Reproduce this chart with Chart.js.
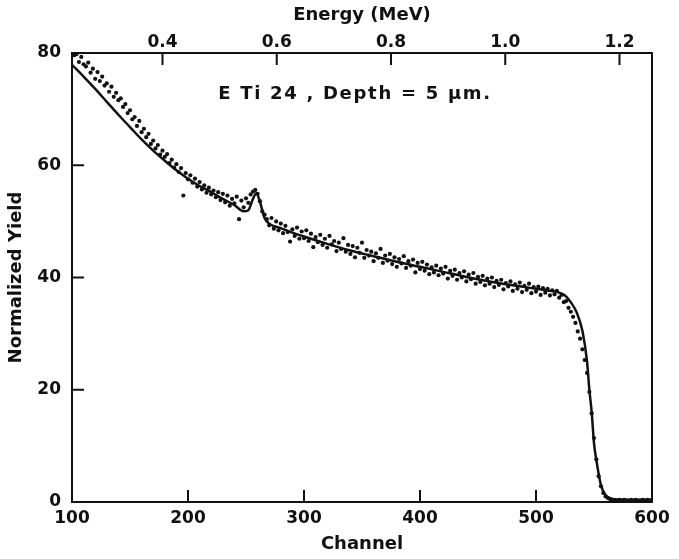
<!DOCTYPE html>
<html><head><meta charset="utf-8">
<script src="https://cdn.jsdelivr.net/npm/chart.js@4"></script>
<style>html,body{margin:0;padding:0;background:#fff}#wrap{width:679px;height:559px}</style>
</head><body><div id="wrap"><canvas id="c" width="679" height="559"></canvas></div>
<script>
// Measured spectrum (points)
const channels = [102,104,106,108,110,112,114,116,118,120,122,124,126,128,130,132,134,136,138,140,142,144,146,148,150,152,154,156,158,160,162,164,166,168,170,172,174,176,178,180,182,184,186,188,190,192,194,196,198,200,202,204,206,208,210,212,214,216,218,220,222,224,226,228,230,232,234,236,238,240,242,244,246,248,250,252,254,256,258,260,262,264,266,268,270,272,274,276,278,280,282,284,286,288,290,292,294,296,298,300,302,304,306,308,310,312,314,316,318,320,322,324,326,328,330,332,334,336,338,340,342,344,346,348,350,352,354,356,358,360,362,364,366,368,370,372,374,376,378,380,382,384,386,388,390,392,394,396,398,400,402,404,406,408,410,412,414,416,418,420,422,424,426,428,430,432,434,436,438,440,442,444,446,448,450,452,454,456,458,460,462,464,466,468,470,472,474,476,478,480,482,484,486,488,490,492,494,496,498,500,502,504,506,508,510,512,514,516,518,520,522,524,526,528,530,532,534,536,538,540,542,544,546,548,550,552,554,556,558,560,562,564,566,568,570,572,574,576,578,580,582,584,586,588,590,592,594,596,598];
const yields = [79.6,79.8,78.4,79.3,78.0,77.6,78.3,76.5,77.2,75.4,76.6,75.0,75.8,74.2,74.6,73.1,74.0,72.2,72.9,71.6,71.9,70.4,70.9,69.3,69.8,68.2,68.6,67.0,67.9,65.9,66.5,65.0,65.6,63.8,64.4,63.0,63.6,61.9,62.6,61.5,62.0,60.4,61.0,59.6,60.2,58.8,59.5,54.6,58.6,57.5,58.2,56.9,57.6,56.2,57.0,55.7,56.4,55.1,56.0,54.8,55.5,54.3,55.2,53.8,54.9,53.4,54.6,52.8,54.0,53.2,54.4,50.4,53.7,52.5,54.1,53.3,54.8,55.3,55.6,54.9,53.6,51.8,51.2,50.4,49.3,50.6,48.7,50.0,48.4,49.6,47.9,49.2,48.1,46.4,48.6,47.4,48.9,46.9,48.2,47.0,48.4,46.5,47.8,45.4,47.2,46.3,47.6,45.8,46.9,45.3,47.4,45.9,46.5,44.7,46.2,45.1,47.0,44.6,45.8,44.2,45.6,43.6,45.3,44.4,46.2,43.5,44.9,43.9,44.6,42.9,44.3,43.5,45.1,42.6,43.9,43.0,44.2,42.4,43.6,41.9,43.3,42.5,43.8,41.7,42.9,42.1,43.2,40.9,42.6,41.5,42.8,41.2,42.3,40.6,41.8,40.9,42.1,40.4,41.6,40.7,41.9,39.8,41.2,40.3,41.4,39.6,40.8,40.0,41.1,39.3,40.5,39.7,40.8,38.9,40.1,39.2,40.3,38.6,39.8,38.9,40.0,38.3,39.4,38.7,39.6,37.9,39.0,38.4,39.3,37.6,38.8,38.0,39.1,37.4,38.5,37.8,38.9,37.2,38.3,37.5,38.4,36.9,38.1,37.3,38.0,36.8,37.7,37.0,37.6,36.4,36.9,35.6,35.8,34.6,33.9,33.0,31.9,30.4,29.1,27.2,25.3,23.0,19.6,15.8,11.4,7.6,4.6,2.8,1.6,1.0,0.7,0.5,0.4,0.4,0.3,0.4,0.3,0.4,0.3,0.3,0.4,0.3,0.4,0.3,0.3,0.4,0.3,0.4,0.3,0.4];
// Simulated curve (solid line)
const curveChannels = [100,110,120,130,140,150,160,170,180,190,200,210,220,230,240,248,252,256,259,262,266,270,280,290,300,320,340,360,380,400,420,440,460,480,500,510,520,525,530,535,540,544,546,548,550,552,556,560,565,570,580,590,600];
const curveYields = [77.9,75.8,73.6,71.3,69.0,66.8,64.6,62.6,60.8,59.1,57.6,56.3,55.2,54.0,52.9,51.8,52.0,54.0,55.0,53.5,50.6,49.6,48.8,48.0,47.3,46.0,44.8,43.8,42.8,41.9,41.0,40.1,39.3,38.6,38.0,37.7,37.3,36.8,35.6,33.8,30.5,25.0,20.0,16.0,10.5,7.5,3.0,1.2,0.6,0.4,0.3,0.3,0.4];
const channelTicks = [100,200,300,400,500,600];
const yieldTicks = [0,20,40,60,80];
const energyTicks = [0.4,0.6,0.8,1.0,1.2];
const energyRange = [0.2416, 1.2569]; // energy at channel 100 and 600
const annotationText = 'E Ti 24 , Depth = 5 \u03BCm.';

const FONT = 'DejaVu Sans';
const tickFont = {family: FONT, size: 17, weight: 'bold'};
const titleFont = {family: FONT, size: 18, weight: 'bold'};

const framePlugin = {
  id: 'frame',
  afterDraw(chart) {
    const {ctx, chartArea: a, scales} = chart;
    ctx.save();
    ctx.strokeStyle = '#111';
    ctx.lineWidth = 2;
    ctx.strokeRect(a.left, a.top, a.right - a.left, a.bottom - a.top);
    const L = 12;
    ctx.beginPath();
    scales.x.ticks.forEach(t => {
      if (t.value === 100 || t.value === 600) return;
      const p = scales.x.getPixelForValue(t.value);
      ctx.moveTo(p, a.bottom); ctx.lineTo(p, a.bottom - L);
    });
    scales.xE.ticks.forEach(t => {
      const p = scales.xE.getPixelForValue(t.value);
      ctx.moveTo(p, a.top); ctx.lineTo(p, a.top + L);
    });
    scales.y.ticks.forEach(t => {
      if (t.value === 0 || t.value === 80) return;
      const p = scales.y.getPixelForValue(t.value);
      ctx.moveTo(a.left, p); ctx.lineTo(a.left + L, p);
    });
    ctx.stroke();
    // annotation
    ctx.fillStyle = '#111';
    ctx.font = 'bold 18px "' + FONT + '"';
    ctx.textBaseline = 'middle';
    ctx.textAlign = 'left';
    const target = 272;
    const w = ctx.measureText(annotationText).width;
    const sp = (target - w) / (annotationText.length - 1);
    ctx.letterSpacing = sp + 'px';
    ctx.fillText(annotationText, scales.x.getPixelForValue(226), scales.y.getPixelForValue(72.6));
    ctx.restore();
  }
};

new Chart(document.getElementById('c'), {
  type: 'scatter',
  data: {
    datasets: [
      {
        type: 'line',
        data: curveChannels.map((c, i) => ({x: c, y: curveYields[i]})),
        borderColor: '#111', borderWidth: 2.5, pointRadius: 0,
        cubicInterpolationMode: 'monotone', fill: false, xAxisID: 'x', yAxisID: 'y'
      },
      {
        data: channels.map((c, i) => ({x: c, y: yields[i]})),
        backgroundColor: '#111', borderColor: '#111', borderWidth: 0,
        pointRadius: 2.1, xAxisID: 'x', yAxisID: 'y'
      }
    ]
  },
  options: {
    responsive: false, animation: false, devicePixelRatio: 1,
    layout: {padding: {left: 0, right: 27, top: 0, bottom: 0}},
    plugins: {legend: {display: false}, tooltip: {enabled: false}},
    scales: {
      x: {
        type: 'linear', position: 'bottom', min: 100, max: 600,
        afterBuildTicks: s => { s.ticks = channelTicks.map(v => ({value: v})); },
        afterFit: s => { s.height = 57; },
        grid: {display: false, drawTicks: false}, border: {display: false},
        ticks: {font: tickFont, color: '#111', padding: 6, maxRotation: 0, autoSkip: false},
        title: {display: true, text: 'Channel', font: titleFont, color: '#111', padding: {top: 0, bottom: 4}}
      },
      xE: {
        type: 'linear', position: 'top', min: energyRange[0], max: energyRange[1],
        afterBuildTicks: s => { s.ticks = energyTicks.map(v => ({value: v})); },
        afterFit: s => { s.height = 53; },
        grid: {display: false, drawTicks: false}, border: {display: false},
        ticks: {font: tickFont, color: '#111', padding: 0, maxRotation: 0, autoSkip: false,
          callback: v => Number(v).toFixed(1)},
        title: {display: true, text: 'Energy (MeV)', font: titleFont, color: '#111', padding: {top: 5, bottom: 0}}
      },
      y: {
        type: 'linear', position: 'left', min: 0, max: 80,
        afterBuildTicks: s => { s.ticks = yieldTicks.map(v => ({value: v})); },
        afterFit: s => { s.width = 72; },
        grid: {display: false, drawTicks: false}, border: {display: false},
        ticks: {font: tickFont, color: '#111', padding: 11, autoSkip: false},
        title: {display: true, text: 'Normalized Yield', font: titleFont, color: '#111', padding: {top: 6, bottom: 0}}
      }
    }
  },
  plugins: [framePlugin]
});
</script>
</body></html>
